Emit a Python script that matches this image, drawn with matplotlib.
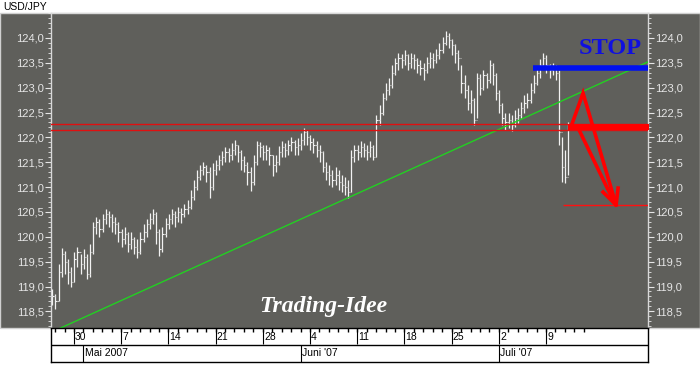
import numpy as np
import matplotlib
matplotlib.use("Agg")
import matplotlib.pyplot as plt
from matplotlib.patches import Rectangle
from matplotlib.ticker import MultipleLocator, FixedLocator, FuncFormatter

# ---------------- data ----------------
title = "USD/JPY"
bars_per_day = 3
first_bar_day = -2.3          # trading-day index, 0 = Mon 30 Apr 2007

closes = [118.80, 118.70, 119.30, 119.65, 119.50, 119.30, 119.10, 119.55, 119.70, 119.45,
          119.60, 119.25, 119.70, 120.20, 120.30, 120.15, 120.35, 120.45, 120.40, 120.30,
          120.25, 120.10, 119.95, 120.05, 119.85, 119.95, 119.80, 119.70, 119.95, 120.10,
          120.25, 120.35, 120.45, 120.10, 119.75, 120.05, 120.25, 120.35, 120.45, 120.40,
          120.50, 120.45, 120.55, 120.60, 120.80, 121.00, 121.20, 121.35, 121.40, 121.30,
          121.00, 121.35, 121.45, 121.55, 121.60, 121.70, 121.65, 121.75, 121.85, 121.70,
          121.55, 121.45, 121.30, 121.10, 121.50, 121.85, 121.80, 121.70, 121.75, 121.65,
          121.45, 121.50, 121.70, 121.80, 121.75, 121.85, 121.90, 121.80, 121.85, 121.95,
          122.10, 122.00, 121.90, 121.85, 121.75, 121.70, 121.40, 121.30, 121.25, 121.15,
          121.25, 121.10, 121.05, 121.00, 120.90, 121.60, 121.75, 121.70, 121.80, 121.75,
          121.70, 121.80, 121.60, 122.35, 122.50, 122.80, 122.95, 123.05, 123.30, 123.50,
          123.60, 123.55, 123.65, 123.50, 123.60, 123.55, 123.45, 123.40, 123.35, 123.50,
          123.60, 123.55, 123.65, 123.75, 123.90, 124.05, 123.95, 123.85, 123.70, 123.60,
          123.10, 122.95, 122.70, 122.75, 122.35, 123.20, 123.00, 123.25, 123.15, 123.45,
          123.25, 122.90, 122.65, 122.40, 122.30, 122.35, 122.25, 122.40, 122.45, 122.60,
          122.70, 122.75, 122.95, 123.10, 123.30, 123.45, 123.60, 123.45, 123.35, 123.40,
          123.30, 122.10, 121.40, 121.20, 122.20]

highs = [118.95, 118.85, 119.45, 119.78, 119.72, 119.55, 119.40, 119.70, 119.80, 119.65,
         119.75, 119.65, 119.85, 120.30, 120.40, 120.35, 120.45, 120.55, 120.52, 120.45,
         120.40, 120.30, 120.15, 120.20, 120.10, 120.10, 120.00, 119.95, 120.10, 120.25,
         120.35, 120.48, 120.55, 120.50, 120.15, 120.20, 120.38, 120.45, 120.55, 120.52,
         120.60, 120.58, 120.65, 120.75, 120.95, 121.15, 121.35, 121.45, 121.50, 121.45,
         121.40, 121.48, 121.55, 121.65, 121.72, 121.80, 121.78, 121.88, 121.95, 121.85,
         121.75, 121.62, 121.50, 121.40, 121.65, 121.92, 121.90, 121.85, 121.85, 121.80,
         121.65, 121.65, 121.82, 121.92, 121.88, 121.95, 122.00, 121.95, 121.98, 122.08,
         122.18, 122.15, 122.05, 121.98, 121.92, 121.85, 121.72, 121.50, 121.45, 121.35,
         121.40, 121.35, 121.25, 121.20, 121.15, 121.75, 121.85, 121.85, 121.92, 121.88,
         121.85, 121.92, 121.85, 122.45, 122.65, 122.90, 123.10, 123.20, 123.45, 123.60,
         123.70, 123.68, 123.75, 123.68, 123.70, 123.68, 123.60, 123.55, 123.50, 123.62,
         123.72, 123.70, 123.78, 123.90, 124.02, 124.15, 124.10, 123.98, 123.88, 123.75,
         123.45, 123.25, 123.05, 122.95, 122.80, 123.30, 123.28, 123.35, 123.30, 123.55,
         123.50, 123.30, 122.95, 122.70, 122.50, 122.50, 122.45, 122.55, 122.60, 122.72,
         122.85, 122.90, 123.10, 123.25, 123.40, 123.58, 123.70, 123.65, 123.48, 123.50,
         123.45, 123.35, 122.00, 121.75, 122.30]

lows = [118.62, 118.55, 118.70, 119.20, 119.25, 119.05, 118.98, 119.10, 119.40, 119.25,
        119.35, 119.15, 119.20, 119.65, 120.05, 120.00, 120.10, 120.25, 120.20, 120.10,
        120.05, 119.90, 119.80, 119.85, 119.70, 119.75, 119.65, 119.58, 119.65, 119.90,
        120.00, 120.15, 120.25, 119.85, 119.62, 119.70, 120.00, 120.15, 120.25, 120.20,
        120.30, 120.28, 120.40, 120.45, 120.55, 120.75, 120.95, 121.15, 121.25, 121.10,
        120.78, 120.95, 121.25, 121.35, 121.45, 121.50, 121.50, 121.55, 121.65, 121.50,
        121.35, 121.30, 121.05, 120.92, 121.05, 121.45, 121.60, 121.55, 121.55, 121.45,
        121.22, 121.30, 121.45, 121.60, 121.60, 121.65, 121.72, 121.65, 121.65, 121.75,
        121.85, 121.85, 121.75, 121.68, 121.60, 121.50, 121.30, 121.15, 121.05, 121.00,
        121.05, 120.95, 120.90, 120.85, 120.78, 120.90, 121.50, 121.55, 121.60, 121.60,
        121.55, 121.60, 121.55, 121.60, 122.25, 122.45, 122.75, 122.85, 123.00, 123.25,
        123.35, 123.40, 123.45, 123.35, 123.40, 123.38, 123.30, 123.25, 123.15, 123.30,
        123.40, 123.40, 123.50, 123.58, 123.70, 123.85, 123.80, 123.65, 123.50, 123.35,
        122.90, 122.80, 122.55, 122.50, 122.25, 122.40, 122.85, 122.95, 123.00, 123.10,
        123.05, 122.75, 122.50, 122.25, 122.15, 122.18, 122.12, 122.20, 122.28, 122.40,
        122.50, 122.60, 122.70, 122.90, 123.05, 123.20, 123.40, 123.30, 123.20, 123.25,
        123.15, 121.85, 121.10, 121.08, 121.25]

# date axis (trading-day index, 0 = 30 Apr)
week_days = [0, 5, 10, 15, 20, 25, 30, 35, 40, 45, 50]
week_labels = ["30", "7", "14", "21", "28", "4", "11", "18", "25", "2", "9"]
tick_days = list(range(-2, 55))
month_days = [1, 24, 45]
month_labels = ["Mai 2007", "Juni '07", "Juli '07"]

# y axis
y_major = [118.5, 119.0, 119.5, 120.0, 120.5, 121.0, 121.5, 122.0, 122.5, 123.0, 123.5, 124.0]

# drawn analysis
trend_x = [-1.48, 60.8]
trend_y = [118.16, 123.52]
support_levels = [122.27, 122.15]
band_start = 52.3
target_level = 120.63
target_start = 51.8
stop_level = 123.40
stop_start = 48.6
arrow_a_x = [52.75, 53.92, 57.42]
arrow_a_y = [122.27, 122.89, 120.64]
arrow_b_x = [53.5, 57.2]
arrow_b_y = [122.15, 120.70]
head_x = [56.04, 57.42, 57.63]
head_y = [120.90, 120.64, 120.98]

# ---------------- layout ----------------
W, H = 700, 368
fig = plt.figure(figsize=(W / 100, H / 100), dpi=100, facecolor="white")
GRAY = "#5f5f5b"
LIGHT = "#e6e6e6"
plt.rcParams["font.family"] = ["Liberation Sans", "DejaVu Sans"]

def fx(px):
    return px / W

def fy(py):
    return 1 - py / H

bg = Rectangle((0, fy(328)), 1, fy(13) - fy(328), transform=fig.transFigure,
               facecolor=GRAY, edgecolor="#d0d0d0", lw=1, zorder=-10)
fig.add_artist(bg)

ax = fig.add_axes([fx(51), fy(328), fx(648) - fx(51), fy(13) - fy(328)], zorder=1)
ax.set_facecolor(GRAY)
ax.set_xlim(-2.436, 60.8)
ax.set_ylim(118.165, 124.503)

# bars (OHLC: open tick = previous close)
n = len(closes)
xs = np.array([first_bar_day + i / bars_per_day for i in range(n)])
opens = [closes[0]] + closes[:-1]
ax.vlines(xs, lows, highs, color="#f2f2f2", lw=0.9, zorder=3)
ax.hlines(closes, xs, xs + 0.13, color="#f2f2f2", lw=0.8, zorder=3)
ax.hlines(opens, xs - 0.13, xs, color="#c8c8c8", lw=0.8, zorder=3)

# analysis lines
ax.plot(trend_x, trend_y, color="#22d022", lw=1.0, zorder=4)
for lv in support_levels:
    ax.axhline(lv, color="#e01010", lw=1.0, zorder=4)
ax.fill_between([band_start, 61], support_levels[1], support_levels[0], color="#ff0000", lw=0, zorder=5)
ax.hlines(target_level, target_start, 61, color="#ff1010", lw=1.0, zorder=4)
ax.hlines(stop_level, stop_start, 61, color="#0010f0", lw=4.0, zorder=5)
ax.plot(arrow_a_x, arrow_a_y, color="#ff0000", lw=2.6, zorder=6, solid_joinstyle="miter")
ax.plot(arrow_b_x, arrow_b_y, color="#ff0000", lw=2.6, zorder=6)
ax.plot(head_x, head_y, color="#ff0000", lw=2.6, zorder=6)

ax.text(56.8, 123.78, "STOP", color="#1010e0", fontsize=17.5, fontweight="bold",
        family=["Liberation Serif", "DejaVu Serif"], ha="center", va="center", zorder=7)
ax.text(26.4, 118.48, "Trading-Idee", color="white", fontsize=17, fontweight="bold",
        fontstyle="italic", family=["Liberation Serif", "DejaVu Serif"],
        ha="center", va="baseline", zorder=7)

# y axes
ax.yaxis.set_major_locator(FixedLocator(y_major))
ax.yaxis.set_minor_locator(MultipleLocator(0.1))
ax.yaxis.set_major_formatter(FuncFormatter(lambda v, p: f"{v:.1f}".replace(".", ",")))
ax.tick_params(axis="y", which="both", direction="out", colors=LIGHT, left=True, right=True,
               labelleft=True, labelright=True, labelsize=8, pad=1)
ax.tick_params(axis="y", which="major", length=4, width=0.8)
ax.tick_params(axis="y", which="minor", length=2.5, width=0.6)
ax.set_xticks([])
for s in ["left", "right", "top"]:
    ax.spines[s].set_color("#d8d8d8")
    ax.spines[s].set_linewidth(1)
ax.spines["bottom"].set_visible(False)

# date axis
ax2 = fig.add_axes([fx(51), fy(362), fx(648) - fx(51), fy(328) - fy(362)], zorder=1)
ax2.set_xlim(ax.get_xlim())
ax2.set_ylim(0, 2)
ax2.set_facecolor("white")
ax2.set_xticks([])
ax2.set_yticks([])
for s in ax2.spines.values():
    s.set_color("black")
    s.set_linewidth(1)
ax2.axhline(1, color="black", lw=1)
ax2.vlines(tick_days, 1.75, 2, color="black", lw=1)
ax2.vlines(week_days, 1.08, 2, color="black", lw=0.8)
for d, lab in zip(week_days, week_labels):
    ax2.text(d + 0.12, 1.5, lab, fontsize=7.5, ha="left", va="center", color="black")
ax2.vlines(month_days, 0, 1, color="black", lw=0.8)
for d, lab in zip(month_days, month_labels):
    ax2.text(d + 0.12, 0.5, lab, fontsize=7.5, ha="left", va="center", color="black")

fig.text(fx(3), fy(7), title, fontsize=7.5, ha="left", va="center", color="black")

fig.savefig("out.png", dpi=100, facecolor="white")
